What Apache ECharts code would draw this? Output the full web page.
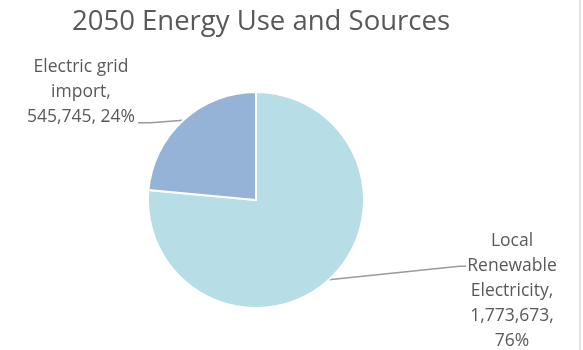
<!DOCTYPE html>
<html>
<head>
<meta charset="utf-8">
<script src="https://cdn.jsdelivr.net/npm/echarts@6/dist/echarts.min.js"></script>
<style>html,body{margin:0;padding:0;background:#fff;}#c{width:583px;height:350px;}</style>
</head>
<body>
<div id="c"></div>
<script>
var titleText = '2050 Energy Use and Sources';
var categories = ['Local Renewable Electricity', 'Electric grid import'];
var values = [1773673, 545745];
var colors = ['#b7dde7', '#94b3d7'];
// label line breaks as shown in the reference
var labelNameLines = [['Local', 'Renewable', 'Electricity'], ['Electric grid', 'import']];
var labelSepAfterValue = [',\n', ', '];

function fmtNum(v) { return v.toString().replace(/\B(?=(\d{3})+(?!\d))/g, ','); }

var LH = 24.8;
var chart = echarts.init(document.getElementById('c'));
chart.setOption({
  animation: false,
  title: {
    text: titleText, left: 256, textAlign: 'center', top: 3,
    textStyle: { fontFamily: 'Open Sans', fontSize: 27.5, fontWeight: 'normal', color: '#595959' }
  },
  graphic: [{ type: 'line', shape: { x1: 580, y1: 0, x2: 580, y2: 350 }, style: { stroke: '#d9d9d9', lineWidth: 1.5 } }],
  series: [{
    type: 'pie',
    center: [256, 200],
    radius: 108,
    startAngle: 90,
    clockwise: true,
    data: categories.map(function (c, i) { return { name: c, value: values[i], itemStyle: { color: colors[i] } }; }),
    itemStyle: { borderColor: '#fff', borderWidth: 2 },
    label: {
      show: true,
      position: 'outside',
      fontFamily: 'Open Sans', fontSize: 17.5, color: '#595959', lineHeight: LH, align: 'center',
      formatter: function (p) {
        return labelNameLines[p.dataIndex].join('\n') + ',\n' + fmtNum(p.value) + labelSepAfterValue[p.dataIndex] + Math.round(p.percent) + '%';
      }
    },
    labelLine: { show: true, length: 5, length2: 10, lineStyle: { color: '#9a9a9a', width: 1.5 } },
    labelLayout: function (p) {
      var w = p.labelRect.width, h = p.labelRect.height;
      var s = p.labelLinePoints ? p.labelLinePoints[0] : null;
      if (p.dataIndex === 0) {
        var cx = 512, cy = 291;
        var left = cx - w / 2, top = cy - h / 2;
        var ly = top + LH * 1.5;
        var r = { x: cx, y: cy, align: 'center', verticalAlign: 'middle' };
        if (s) r.labelLinePoints = [s, [left - 8, ly], [left - 1, ly]];
        return r;
      }
      var cx2 = 81, cy2 = 92;
      var right = cx2 + w / 2, bottom = cy2 + h / 2;
      var ly2 = bottom - LH * 0.5 + 6;
      var r2 = { x: cx2, y: cy2, align: 'center', verticalAlign: 'middle' };
      if (s) r2.labelLinePoints = [s, [right + 16, ly2], [right + 3, ly2]];
      return r2;
    },
    emphasis: { disabled: true }
  }]
});
</script>
</body>
</html>
